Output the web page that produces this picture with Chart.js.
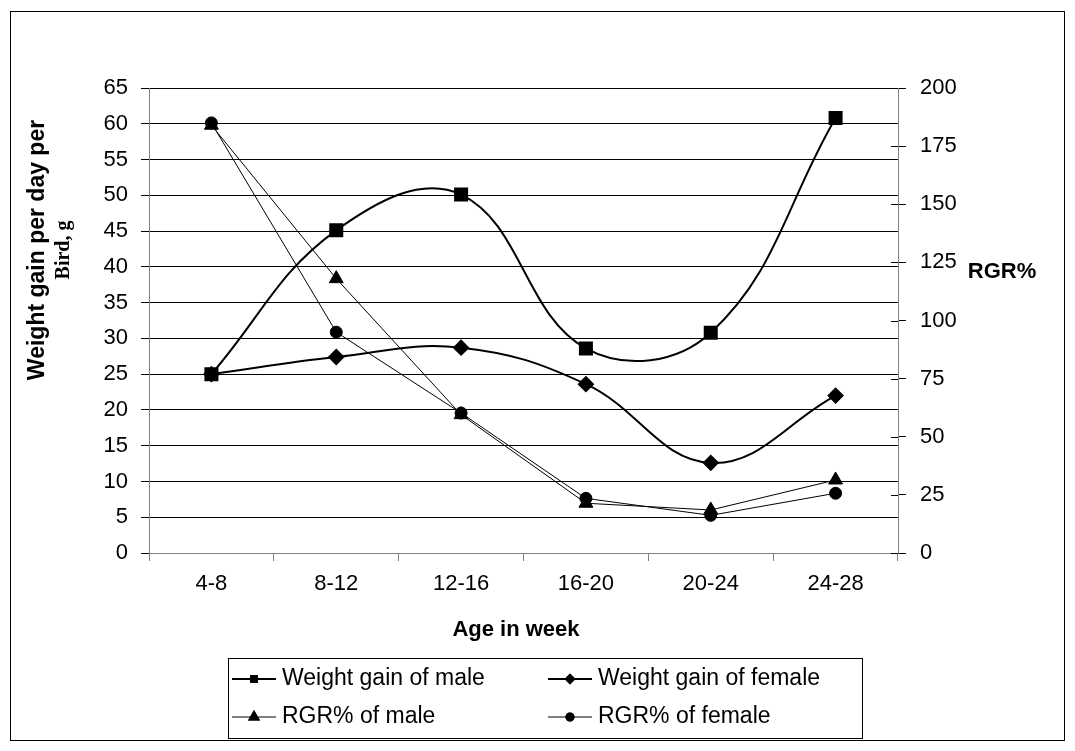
<!DOCTYPE html>
<html>
<head>
<meta charset="utf-8">
<script src="https://cdn.jsdelivr.net/npm/chart.js@4/dist/chart.umd.min.js"></script>
<style>
  body { margin: 0; background: #fff; }
  #wrap { position: relative; width: 1075px; height: 751px; }
</style>
</head>
<body>
<div id="wrap"><canvas id="c" width="1075" height="751"></canvas></div>
<script>
const ages = ['4-8', '8-12', '12-16', '16-20', '20-24', '24-28'];

// weight gain per day per bird, g (left axis)
const gainMale = [25, 45.1, 50.1, 28.6, 30.8, 60.8];
const gainFemale = [25, 27.4, 28.7, 23.6, 12.6, 22];

// RGR% (right axis)
const rgrMale = [184, 118, 59.5, 21.4, 18.5, 31.4];
const rgrFemale = [185, 95, 60.2, 23.5, 16.2, 25.7];

const leftTitle = 'Weight gain per day per';
const leftTitle2 = 'Bird, g';
const rightTitle = 'RGR%';
const xTitle = 'Age in week';

const F = 'Arial, "Liberation Sans", sans-serif';

// titles, frame and the boxed legend
const extras = {
  id: 'extras',
  afterDraw(chart) {
    const ctx = chart.ctx;
    ctx.save();
    ctx.strokeStyle = '#000';
    ctx.lineWidth = 1;
    ctx.strokeRect(10.5, 11.5, 1054, 729);

    // right axis ticks cross the axis line
    const r = chart.scales.y1;
    ctx.strokeStyle = '#000';
    r.ticks.forEach(t => {
      const py = Math.round(r.getPixelForValue(t.value)) + 0.5;
      ctx.beginPath();
      ctx.moveTo(r.left - 7, py);
      ctx.lineTo(r.left, py);
      ctx.stroke();
    });

    ctx.fillStyle = '#000';
    ctx.textAlign = 'center';
    ctx.textBaseline = 'middle';
    ctx.font = 'bold 22px ' + F;
    ctx.fillText(xTitle, 516, 630);
    ctx.fillText(rightTitle, 1002, 272);

    ctx.save();
    ctx.translate(38, 250);
    ctx.rotate(-Math.PI / 2);
    ctx.font = 'bold 23px ' + F;
    ctx.fillText(leftTitle, 0, 0);
    ctx.font = 'bold 20px "Liberation Serif", "Times New Roman", serif';
    ctx.fillText(leftTitle2, 0, 26);
    ctx.restore();

    // legend
    ctx.strokeStyle = '#000';
    ctx.strokeRect(228.5, 658.5, 634, 80);
    const slots = [[232, 679], [548, 679], [232, 717], [548, 717]];
    const mk = [
      { pointStyle: 'rect', radius: 5.5 },
      { pointStyle: 'rectRot', radius: 5.5 },
      { pointStyle: 'triangle', radius: 7 },
      { pointStyle: 'circle', radius: 4.5 }
    ];
    chart.data.datasets.forEach((ds, i) => {
      const [x, y] = slots[i];
      ctx.beginPath();
      ctx.lineWidth = i < 2 ? 2 : 1;
      ctx.moveTo(x, y);
      ctx.lineTo(x + 44, y);
      ctx.stroke();
      ctx.lineWidth = 1;
      ctx.fillStyle = '#000';
      Chart.helpers.drawPoint(ctx, { pointStyle: mk[i].pointStyle, radius: mk[i].radius, rotation: 0, borderWidth: 0 }, x + 22, y);
      ctx.fill();
      ctx.textAlign = 'left';
      ctx.font = '23px ' + F;
      ctx.fillText(ds.label, x + 50, y);
    });
    ctx.restore();
  }
};

new Chart(document.getElementById('c'), {
  type: 'line',
  data: {
    labels: ages,
    datasets: [
      {
        label: 'Weight gain of male',
        data: gainMale,
        yAxisID: 'y',
        borderColor: '#000',
        backgroundColor: '#000',
        borderWidth: 2,
        tension: 0.4,
        pointStyle: 'rect',
        pointRadius: 8.5
      },
      {
        label: 'Weight gain of female',
        data: gainFemale,
        yAxisID: 'y',
        borderColor: '#000',
        backgroundColor: '#000',
        borderWidth: 2,
        tension: 0.4,
        pointStyle: 'rectRot',
        pointRadius: 7
      },
      {
        label: 'RGR% of male',
        data: rgrMale,
        yAxisID: 'y1',
        borderColor: '#000',
        backgroundColor: '#000',
        borderWidth: 1,
        tension: 0,
        pointStyle: 'triangle',
        pointRadius: 8
      },
      {
        label: 'RGR% of female',
        data: rgrFemale,
        yAxisID: 'y1',
        borderColor: '#000',
        backgroundColor: '#000',
        borderWidth: 1,
        tension: 0,
        pointStyle: 'circle',
        pointRadius: 6
      }
    ]
  },
  options: {
    responsive: false,
    animation: false,
    layout: { padding: { top: 88, left: 0, right: 0, bottom: 0 } },
    plugins: {
      legend: { display: false },
      tooltip: { enabled: false }
    },
    elements: { point: { borderWidth: 0, hoverRadius: 0 } },
    scales: {
      x: {
        offset: true,
        grid: { offset: true, drawOnChartArea: false, drawTicks: true, tickLength: 8, color: '#808080' },
        border: { color: '#808080' },
        ticks: { color: '#000', font: { family: F, size: 22 }, padding: 10, maxRotation: 0 },
        afterFit(s) { s.height = 198; }
      },
      y: {
        position: 'left',
        min: 0,
        max: 65,
        ticks: { stepSize: 5, color: '#000', font: { family: F, size: 22 }, padding: 13 },
        grid: { color: '#000', tickColor: '#000', tickLength: 8 },
        border: { color: '#808080' },
        afterFit(s) { s.width = 149; }
      },
      y1: {
        position: 'right',
        min: 0,
        max: 200,
        ticks: { stepSize: 25, color: '#000', font: { family: F, size: 22 }, padding: 14 },
        grid: { drawOnChartArea: false, tickColor: '#000', tickLength: 8 },
        border: { color: '#808080' },
        afterFit(s) { s.width = 177; }
      }
    }
  },
  plugins: [extras]
});
</script>
</body>
</html>
